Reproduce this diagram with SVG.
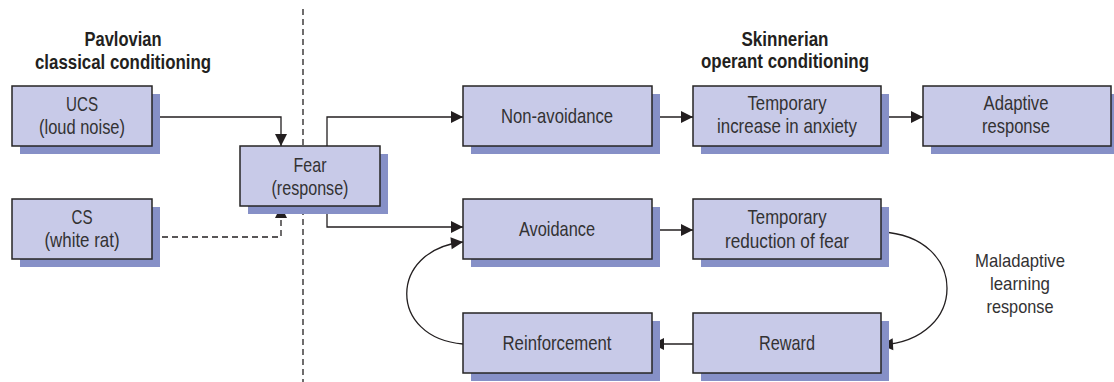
<svg xmlns="http://www.w3.org/2000/svg" width="1114" height="382" viewBox="0 0 1114 382">
<style>
.sh{fill:#8690c7}
.bx{fill:#c8cae8;stroke:#262425;stroke-width:1.5}
.t{font-family:"Liberation Sans",Arial,sans-serif;font-size:21px;fill:#333233;text-anchor:middle}
.h{font-family:"Liberation Sans",Arial,sans-serif;font-size:19.5px;font-weight:bold;fill:#231f20;text-anchor:middle}
.m{font-family:"Liberation Sans",Arial,sans-serif;font-size:18.5px;fill:#333233;text-anchor:middle}
.c{fill:none;stroke:#231f20;stroke-width:1.3}
.d{stroke-dasharray:6 4}
</style>
<defs>
<marker id="ah" markerUnits="userSpaceOnUse" markerWidth="14" markerHeight="14" refX="12" refY="7" orient="auto" overflow="visible">
<path d="M0,1 L12,7 L0,13 z" fill="#231f20"/>
</marker>
</defs>

<line x1="303" y1="9" x2="303" y2="382" class="c d"/>

<g id="headers">
<text class="h" x="123" y="46" textLength="77" lengthAdjust="spacingAndGlyphs">Pavlovian</text>
<text class="h" x="123" y="69" textLength="176" lengthAdjust="spacingAndGlyphs">classical conditioning</text>
<text class="h" x="785" y="46" textLength="87" lengthAdjust="spacingAndGlyphs">Skinnerian</text>
<text class="h" x="785" y="68" textLength="168" lengthAdjust="spacingAndGlyphs">operant conditioning</text>
</g>

<g id="connectors">
<path class="c" d="M152,117 H281 V146" marker-end="url(#ah)"/>
<path class="c d" d="M152,237 H281 V206" marker-end="url(#ah)"/>
<path class="c" d="M327,146 V117 H463" marker-end="url(#ah)"/>
<path class="c" d="M327,206 V227 H463" marker-end="url(#ah)"/>
<path class="c" d="M652,117 H693" marker-end="url(#ah)"/>
<path class="c" d="M881,117 H923" marker-end="url(#ah)"/>
<path class="c" d="M652,230 H693" marker-end="url(#ah)"/>
<path class="c" d="M693,344 H652" marker-end="url(#ah)"/>
<path class="c" d="M881,232 C969,236 969,340 881,345" marker-end="url(#ah)"/>
<path class="c" d="M463,344 C388,338 388,250 463,242" marker-end="url(#ah)"/>
</g>

<g id="ucs">
<rect class="sh" x="20" y="94" width="140" height="60"/>
<rect class="bx" x="12" y="86" width="140" height="60"/>
<text class="t" x="82" y="111" textLength="32" lengthAdjust="spacingAndGlyphs">UCS</text>
<text class="t" x="82" y="134" textLength="86" lengthAdjust="spacingAndGlyphs">(loud noise)</text>
</g>
<g id="cs">
<rect class="sh" x="20" y="207" width="140" height="60"/>
<rect class="bx" x="12" y="199" width="140" height="60"/>
<text class="t" x="82" y="224" textLength="21" lengthAdjust="spacingAndGlyphs">CS</text>
<text class="t" x="82" y="247" textLength="75" lengthAdjust="spacingAndGlyphs">(white rat)</text>
</g>
<g id="fear">
<rect class="sh" x="248" y="154" width="140" height="60"/>
<rect class="bx" x="240" y="146" width="140" height="60"/>
<text class="t" x="310" y="172" textLength="33" lengthAdjust="spacingAndGlyphs">Fear</text>
<text class="t" x="310" y="195" textLength="77" lengthAdjust="spacingAndGlyphs">(response)</text>
</g>
<g id="nonavoidance">
<rect class="sh" x="471" y="94" width="189" height="60"/>
<rect class="bx" x="463" y="86" width="189" height="60"/>
<text class="t" x="557" y="123" textLength="112" lengthAdjust="spacingAndGlyphs">Non-avoidance</text>
</g>
<g id="tempincrease">
<rect class="sh" x="701" y="94" width="188" height="60"/>
<rect class="bx" x="693" y="86" width="188" height="60"/>
<text class="t" x="787" y="110" textLength="79" lengthAdjust="spacingAndGlyphs">Temporary</text>
<text class="t" x="787" y="133" textLength="140" lengthAdjust="spacingAndGlyphs">increase in anxiety</text>
</g>
<g id="adaptive">
<rect class="sh" x="931" y="94" width="188" height="60"/>
<rect class="bx" x="923" y="86" width="188" height="60"/>
<text class="t" x="1016" y="110" textLength="65" lengthAdjust="spacingAndGlyphs">Adaptive</text>
<text class="t" x="1016" y="133" textLength="68" lengthAdjust="spacingAndGlyphs">response</text>
</g>
<g id="avoidance">
<rect class="sh" x="471" y="207" width="189" height="60"/>
<rect class="bx" x="463" y="199" width="189" height="60"/>
<text class="t" x="557" y="236" textLength="76" lengthAdjust="spacingAndGlyphs">Avoidance</text>
</g>
<g id="tempreduction">
<rect class="sh" x="701" y="207" width="188" height="60"/>
<rect class="bx" x="693" y="199" width="188" height="60"/>
<text class="t" x="787" y="224" textLength="79" lengthAdjust="spacingAndGlyphs">Temporary</text>
<text class="t" x="787" y="248" textLength="124" lengthAdjust="spacingAndGlyphs">reduction of fear</text>
</g>
<g id="reinforcement">
<rect class="sh" x="471" y="321" width="189" height="60"/>
<rect class="bx" x="463" y="313" width="189" height="60"/>
<text class="t" x="557" y="350" textLength="109" lengthAdjust="spacingAndGlyphs">Reinforcement</text>
</g>
<g id="reward">
<rect class="sh" x="701" y="321" width="188" height="60"/>
<rect class="bx" x="693" y="313" width="188" height="60"/>
<text class="t" x="787" y="350" textLength="56" lengthAdjust="spacingAndGlyphs">Reward</text>
</g>
<g id="maladaptive">
<text class="m" x="1020" y="267" textLength="90" lengthAdjust="spacingAndGlyphs">Maladaptive</text>
<text class="m" x="1020" y="290" textLength="60" lengthAdjust="spacingAndGlyphs">learning</text>
<text class="m" x="1020" y="313" textLength="67" lengthAdjust="spacingAndGlyphs">response</text>
</g>
</svg>
